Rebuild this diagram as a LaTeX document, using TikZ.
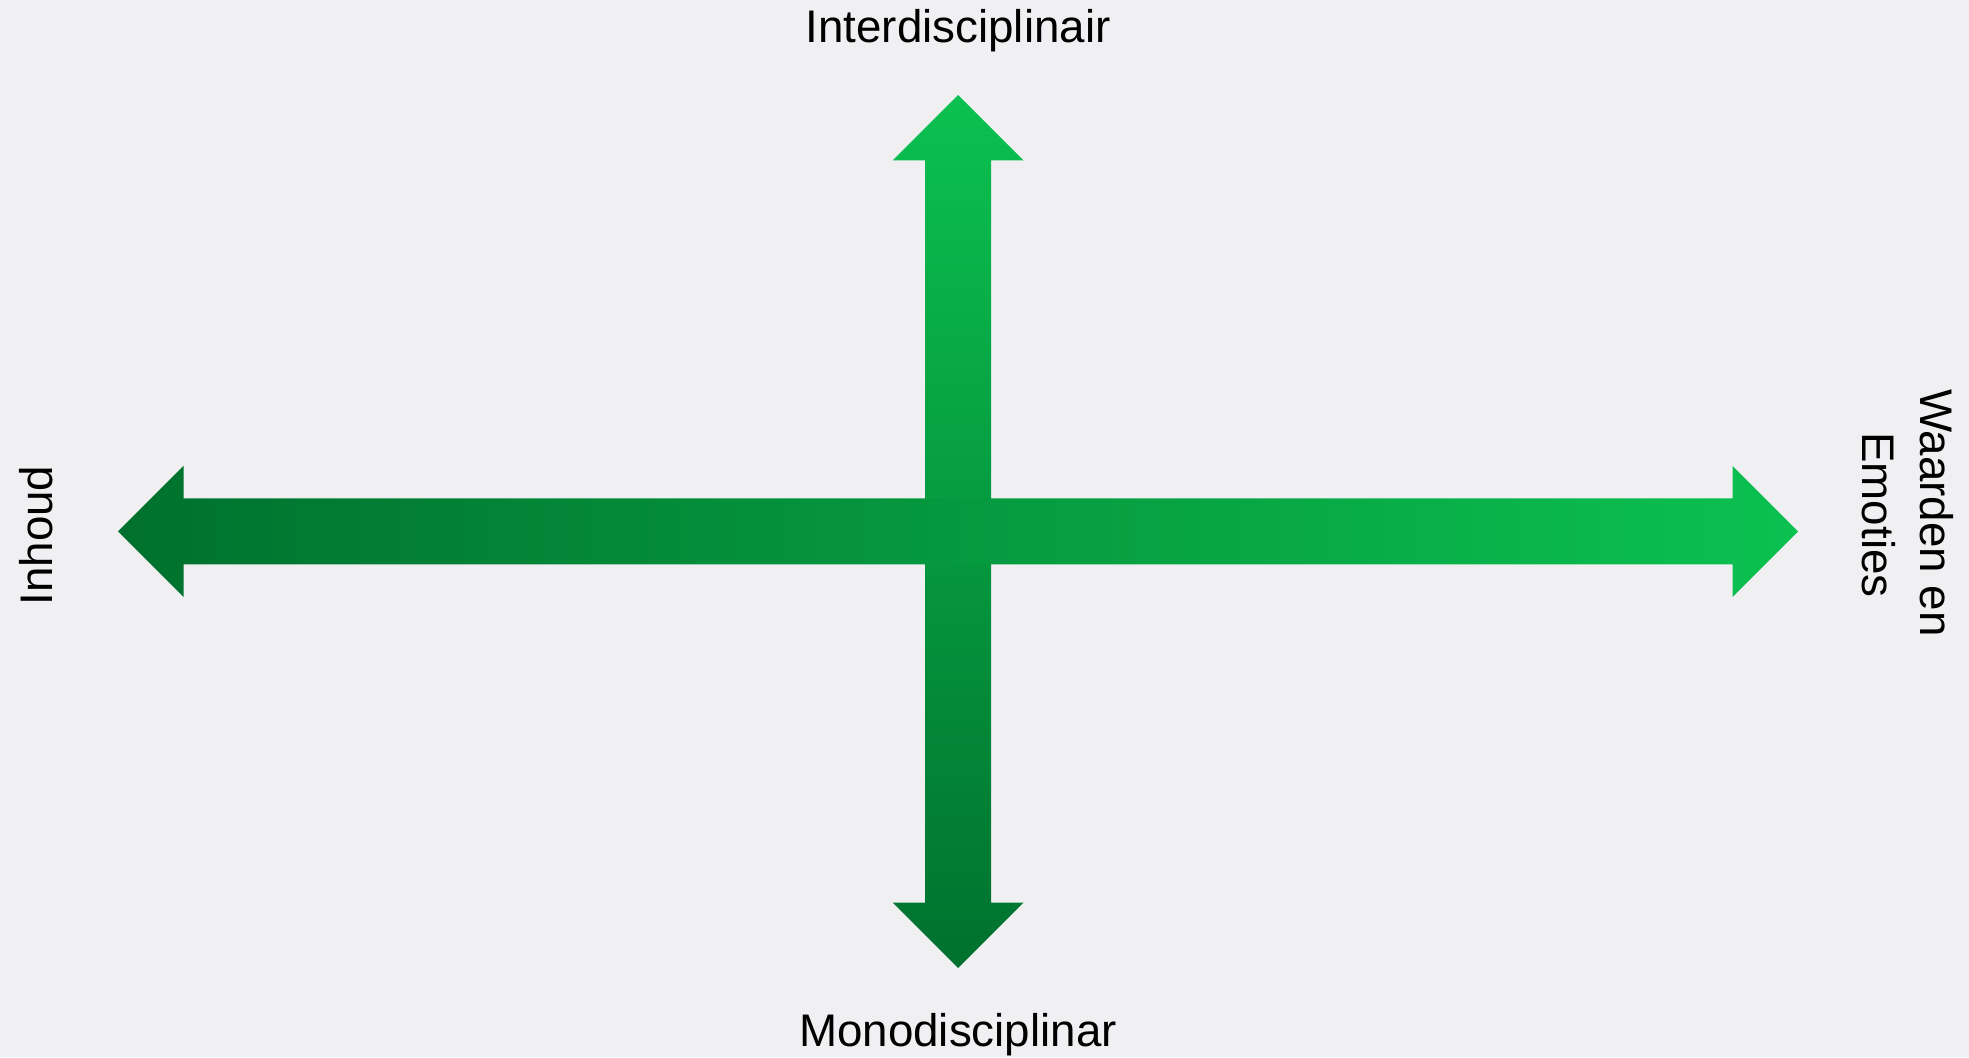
\documentclass[tikz,border=0pt]{standalone}
\usepackage{fontspec}
\setmainfont{Liberation Sans}
\definecolor{crossdark}{HTML}{00712E}
\definecolor{crossbright}{HTML}{0BC150}
\definecolor{paperbg}{HTML}{F0F0F2}

\begin{document}
\begin{tikzpicture}[x=0.01cm, y=0.01cm, font=\fontsize{13}{15.6}\selectfont,
    axislabel/.style={inner sep=0pt, anchor=base, text=black}]
  \def\hw{33}    % half width of a shaft
  \def\hh{65.5}  % half width of a head
  \def\hl{65.5}  % length of a head
  \def\ax{840}   % half length of the horizontal arrow
  \def\ay{436.5} % half length of the vertical arrow

  % background and page size
  \fill[paperbg] (0,0) rectangle (1969,1057);
  \useasboundingbox (0,0) rectangle (1969,1057);

  \coordinate (mid) at (958,525.5);

  % vertical arrow: bright at the top, dark at the bottom
  \shade[top color=crossbright, bottom color=crossdark, shift={(mid)}]
    (0,\ay) -- (\hh,\ay-\hl) -- (\hw,\ay-\hl) -- (\hw,-\ay+\hl)
    -- (\hh,-\ay+\hl) -- (0,-\ay) -- (-\hh,-\ay+\hl) -- (-\hw,-\ay+\hl)
    -- (-\hw,\ay-\hl) -- (-\hh,\ay-\hl) -- cycle;

  % horizontal arrow: dark on the left, bright on the right
  \shade[left color=crossdark, right color=crossbright, shift={(mid)}]
    (-\ax,0) -- (-\ax+\hl,\hh) -- (-\ax+\hl,\hw) -- (\ax-\hl,\hw)
    -- (\ax-\hl,\hh) -- (\ax,0) -- (\ax-\hl,-\hh) -- (\ax-\hl,-\hw)
    -- (-\ax+\hl,-\hw) -- (-\ax+\hl,-\hh) -- cycle;

  % axis labels
  \node[axislabel] (inter) at (958,1014) {Interdisciplinair};
  \node[axislabel] (mono) at (958,11) {Monodisciplinar};
  \node[axislabel, rotate=90] (inhoud) at (52,521.5) {Inhoud};
  \node[axislabel, rotate=-90] (waarden) at (1920,544) {Waarden en};
  \node[axislabel, rotate=-90] (emoties) at (1862,542) {Emoties};
\end{tikzpicture}
\end{document}
